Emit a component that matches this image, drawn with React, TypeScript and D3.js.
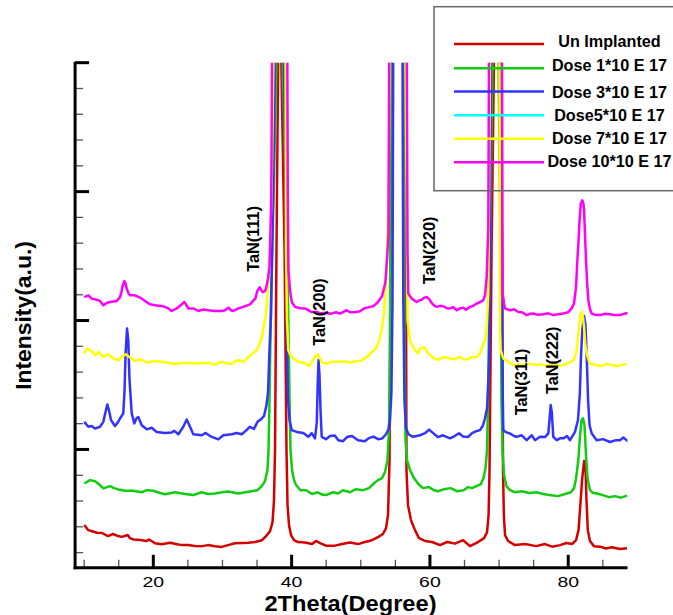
import React from 'react';
import * as d3 from 'd3';

type Pt = [number, number];

// 2Theta (deg), Intensity (a.u.)
const unImplanted: Pt[] = [
  [10.02, 2.07], [10.6, 1.87], [11.14, 1.83], [11.86, 1.77], [12.58, 1.76], [13.45, 1.64], [14.17, 1.72], [14.9, 1.64],
  [15.43, 1.61], [16.3, 1.68], [16.63, 1.56], [17.11, 1.51], [17.79, 1.5], [18.32, 1.48], [19.05, 1.45], [19.38, 1.51],
  [20.25, 1.36], [21.21, 1.32], [22.41, 1.38], [23.28, 1.33], [24.11, 1.29], [25.02, 1.29], [26.03, 1.26], [27.04, 1.25],
  [27.91, 1.29], [28.92, 1.25], [29.89, 1.22], [30.8, 1.29], [31.81, 1.36], [32.83, 1.37], [33.74, 1.38], [34.71, 1.41],
  [35.72, 1.48], [36.3, 1.64], [36.88, 1.83], [37.24, 2.18], [37.45, 3.03], [37.6, 4.96], [37.81, 12.72], [38.06, 20.2],
  [38.27, 40], [38.5, 20.2], [38.98, 12.72], [39.26, 4.96], [39.41, 2.84], [39.62, 2.07], [39.91, 1.68], [40.35, 1.48],
  [40.92, 1.41], [41.94, 1.39], [42.95, 1.33], [43.53, 1.45], [44.11, 1.37], [44.97, 1.27], [46.28, 1.27], [47.29, 1.33],
  [48.44, 1.39], [49.6, 1.33], [50.61, 1.41], [51.62, 1.48], [52.49, 1.6], [53.21, 1.72], [53.65, 1.95], [53.94, 2.45],
  [54.16, 4.59], [54.43, 20.2], [55.3, 40], [56.45, 20.2], [56.61, 4.2], [56.83, 2.84], [57.26, 2.26], [57.84, 1.87],
  [58.42, 1.56], [59.29, 1.45], [60.31, 1.41], [61.46, 1.29], [62.47, 1.41], [63.63, 1.35], [64.79, 1.48], [65.8, 1.25],
  [66.96, 1.41], [67.83, 1.56], [68.26, 1.79], [68.48, 2.45], [68.62, 4.2], [68.91, 12.72], [69.27, 20.2], [69.6, 40],
  [70.21, 20.2], [70.42, 12.72], [70.57, 4.2], [70.69, 2.45], [70.86, 1.68], [71.3, 1.45], [72.31, 1.29], [73.76, 1.33],
  [75.34, 1.25], [76.65, 1.33], [77.66, 1.23], [78.82, 1.29], [79.75, 1.37], [80.55, 1.33], [81.13, 1.48], [81.49, 1.87],
  [81.75, 2.84], [82.0, 3.81], [82.29, 4.55], [82.47, 4.51], [82.64, 3.03], [82.83, 1.87], [83.14, 1.45], [83.72, 1.25],
  [84.59, 1.23], [85.46, 1.16], [86.31, 1.21], [87.47, 1.14], [88.5, 1.17],
];

const dose1: Pt[] = [
  [10.02, 3.68], [10.85, 3.81], [11.57, 3.77], [12.15, 3.65], [12.77, 3.49], [13.74, 3.58], [14.32, 3.5], [14.94, 3.45],
  [15.91, 3.4], [17.11, 3.4], [18.32, 3.34], [19.09, 3.42], [20.0, 3.4], [20.97, 3.31], [21.69, 3.26], [23.14, 3.34],
  [24.58, 3.27], [25.78, 3.23], [27.0, 3.34], [27.91, 3.27], [28.92, 3.29], [29.93, 3.34], [30.85, 3.37], [32.29, 3.29],
  [33.74, 3.36], [35.07, 3.42], [35.69, 3.58], [36.15, 3.77], [36.51, 4.2], [36.66, 4.97], [36.8, 6.91], [37.02, 10.79],
  [37.45, 15.44], [37.81, 20.2], [38.2, 40], [38.68, 20.2], [39.12, 15.44], [39.48, 10.79], [39.7, 6.91], [39.84, 4.97],
  [40.06, 4.2], [40.35, 3.81], [40.64, 3.62], [41.27, 3.42], [42.08, 3.42], [42.95, 3.27], [43.76, 3.34], [44.39, 3.25],
  [44.97, 3.23], [45.99, 3.34], [46.71, 3.29], [47.43, 3.42], [48.44, 3.34], [49.31, 3.46], [50.32, 3.42], [51.19, 3.5],
  [51.92, 3.69], [52.49, 3.81], [53.07, 3.89], [53.5, 4.12], [53.87, 4.59], [54.08, 5.75], [54.23, 8.85], [54.34, 20.2],
  [55.1, 40], [56.18, 20.2], [56.32, 8.85], [56.47, 5.36], [56.69, 4.59], [57.12, 4.2], [57.7, 3.89], [58.35, 3.65],
  [59.0, 3.5], [59.87, 3.54], [60.59, 3.42], [61.17, 3.38], [62.04, 3.46], [63.0, 3.5], [63.92, 3.38], [64.86, 3.42],
  [65.51, 3.54], [66.09, 3.5], [66.72, 3.58], [67.35, 3.65], [67.75, 3.89], [68.04, 4.28], [68.26, 4.97], [68.4, 6.91],
  [68.69, 12.72], [69.05, 20.2], [69.45, 40], [69.92, 20.2], [70.21, 12.72], [70.35, 6.91], [70.5, 4.97], [70.72, 4.0],
  [71.06, 3.58], [71.58, 3.42], [72.31, 3.34], [73.32, 3.38], [74.33, 3.31], [75.42, 3.34], [76.36, 3.27], [77.22, 3.23],
  [78.53, 3.19], [79.54, 3.27], [80.38, 3.34], [80.84, 3.5], [81.13, 3.87], [81.46, 4.59], [81.71, 5.55], [81.92, 6.14],
  [82.14, 6.21], [82.35, 5.94], [82.57, 4.78], [82.79, 3.89], [83.14, 3.42], [83.58, 3.31], [84.16, 3.29], [85.02, 3.23],
  [85.89, 3.15], [86.76, 3.19], [87.62, 3.13], [88.5, 3.21],
];

const dose3: Pt[] = [
  [10.02, 6.07], [10.6, 5.88], [11.09, 5.91], [11.57, 5.81], [12.29, 5.88], [12.77, 6.07], [13.09, 6.45], [13.35, 6.74],
  [13.59, 6.52], [13.88, 6.14], [14.46, 5.91], [14.9, 6.06], [15.18, 6.2], [15.66, 6.4], [15.84, 7.3], [15.98, 8.65],
  [16.2, 9.69], [16.38, 9.24], [16.56, 7.69], [16.88, 6.4], [17.25, 6.01], [17.57, 6.21], [17.83, 6.26], [18.32, 5.94],
  [19.05, 5.78], [19.77, 5.84], [20.49, 5.68], [21.69, 5.64], [22.66, 5.66], [23.04, 5.72], [23.62, 5.59], [24.34, 5.88],
  [24.83, 6.16], [25.31, 5.88], [25.78, 5.59], [27.0, 5.55], [27.58, 5.64], [28.2, 5.52], [29.4, 5.39], [30.12, 5.55],
  [31.34, 5.59], [32.06, 5.64], [32.78, 5.59], [33.36, 5.72], [33.98, 5.88], [34.56, 5.8], [35.07, 6.07], [35.57, 6.17],
  [36.01, 6.3], [36.37, 6.72], [36.59, 7.22], [36.8, 8.85], [37.02, 10.26], [37.31, 14.66], [37.6, 20.2], [38.25, 40],
  [38.9, 20.2], [39.12, 14.66], [39.29, 9.62], [39.48, 6.91], [39.7, 6.14], [40.01, 5.75], [40.74, 5.68], [41.69, 5.64],
  [42.41, 5.49], [42.91, 5.63], [43.38, 5.43], [43.63, 6.02], [43.77, 7.49], [43.89, 8.46], [44.03, 7.88], [44.18, 6.52],
  [44.35, 5.49], [44.97, 5.4], [45.55, 5.52], [46.25, 5.54], [46.75, 5.36], [47.43, 5.32], [48.01, 5.48], [48.73, 5.52],
  [49.6, 5.36], [50.58, 5.32], [51.19, 5.44], [51.83, 5.5], [52.49, 5.4], [53.07, 5.42], [53.65, 5.59], [54.0, 5.77],
  [54.23, 6.14], [54.43, 7.22], [54.59, 10.79], [54.69, 20.2], [55.3, 40], [56.04, 20.2], [56.15, 10.79], [56.32, 6.91],
  [56.54, 5.83], [56.9, 5.59], [57.55, 5.49], [58.57, 5.55], [59.29, 5.63], [59.87, 5.77], [60.3, 5.67], [61.14, 5.48],
  [61.89, 5.55], [62.91, 5.43], [63.63, 5.53], [64.21, 5.63], [64.79, 5.5], [65.51, 5.48], [66.09, 5.63], [66.72, 5.71],
  [67.24, 5.75], [67.65, 5.92], [67.97, 6.21], [68.26, 6.6], [68.45, 7.69], [68.59, 8.73], [68.69, 12.72], [68.83, 20.2],
  [69.55, 40], [70.28, 20.2], [70.42, 12.72], [70.5, 7.69], [70.61, 5.75], [71.0, 5.67], [71.58, 5.62], [72.16, 5.52],
  [72.55, 5.49], [73.27, 5.55], [73.99, 5.36], [74.72, 5.55], [75.19, 5.36], [75.92, 5.49], [76.64, 5.48], [77.12, 5.62],
  [77.29, 6.14], [77.46, 6.72], [77.62, 6.45], [77.84, 5.49], [78.33, 5.36], [78.81, 5.43], [79.29, 5.43], [79.82, 5.52],
  [80.26, 5.36], [80.98, 5.68], [81.41, 6.14], [81.68, 7.18], [81.85, 8.65], [82.04, 9.66], [82.29, 10.18], [82.5, 9.81],
  [82.69, 8.46], [82.87, 6.91], [83.08, 5.94], [83.4, 5.62], [84.12, 5.36], [85.03, 5.4], [86.04, 5.29], [86.91, 5.36],
  [87.49, 5.36], [87.96, 5.46], [88.64, 5.32],
];

const dose5: Pt[] = [];

const dose7: Pt[] = [
  [10.02, 8.72], [10.37, 8.91], [11.09, 8.82], [11.57, 8.65], [12.15, 8.78], [12.77, 8.59], [13.49, 8.69], [14.22, 8.53],
  [14.94, 8.46], [15.43, 8.59], [16.01, 8.69], [16.63, 8.57], [17.35, 8.43], [18.32, 8.49], [19.05, 8.37], [20.25, 8.43],
  [21.21, 8.4], [22.17, 8.36], [23.14, 8.31], [24.58, 8.36], [26.03, 8.33], [27.95, 8.36], [28.92, 8.29], [29.89, 8.4],
  [30.51, 8.34], [31.34, 8.31], [31.81, 8.42], [32.29, 8.46], [33.01, 8.4], [33.74, 8.57], [34.42, 8.73], [35.07, 8.89],
  [35.69, 9.35], [36.3, 10.26], [36.73, 11.78], [37.09, 14.82], [37.38, 20.2], [38.25, 40], [39.12, 20.2], [39.19, 12.72],
  [39.33, 10.01], [39.52, 8.85], [39.84, 8.65], [40.25, 8.54], [40.97, 8.4], [41.94, 8.34], [42.52, 8.23], [42.91, 8.4],
  [43.38, 8.59], [43.77, 8.69], [44.11, 8.54], [44.39, 8.36], [45.07, 8.33], [45.99, 8.4], [47.0, 8.4], [47.87, 8.42],
  [48.44, 8.36], [49.17, 8.42], [49.96, 8.43], [50.61, 8.54], [51.19, 8.65], [51.7, 8.81], [52.13, 8.89], [52.49, 9.08],
  [52.78, 9.35], [53.07, 9.7], [53.36, 10.26], [53.69, 11.78], [54.0, 14.82], [54.2, 20.2], [55.4, 40], [56.47, 20.2],
  [56.64, 14.66], [56.76, 10.01], [57.12, 9.24], [57.41, 9.04], [57.84, 8.85], [58.32, 8.72], [58.57, 8.91], [59.0, 8.97],
  [59.29, 8.93], [59.77, 8.72], [60.52, 8.54], [61.14, 8.48], [61.6, 8.54], [62.32, 8.58], [62.91, 8.52], [63.63, 8.5],
  [64.35, 8.59], [64.86, 8.5], [65.51, 8.5], [66.09, 8.58], [66.77, 8.59], [67.24, 8.73], [67.65, 9.04], [67.97, 9.24],
  [68.21, 9.75], [68.44, 11.06], [68.69, 20.2], [69.35, 40], [70.06, 20.2], [70.11, 14.66], [70.14, 9.62], [70.23, 8.85],
  [70.61, 8.53], [71.34, 8.4], [72.06, 8.27], [72.74, 8.31], [73.51, 8.27], [74.47, 8.33], [75.44, 8.27], [76.06, 8.31],
  [76.89, 8.23], [77.51, 8.31], [78.33, 8.27], [78.96, 8.25], [79.78, 8.33], [80.26, 8.38], [80.74, 8.46], [81.06, 8.65],
  [81.23, 8.85], [81.42, 9.31], [81.56, 9.75], [81.75, 10.21], [81.93, 10.33], [82.11, 10.17], [82.29, 9.75], [82.47, 9.04],
  [82.68, 8.72], [82.94, 8.46], [83.15, 8.33], [84.12, 8.27], [84.75, 8.23], [85.57, 8.31], [86.19, 8.29], [87.02, 8.23],
  [87.64, 8.27], [88.46, 8.31],
];

const dose10: Pt[] = [
  [10.02, 10.91], [10.6, 10.98], [11.09, 10.85], [11.81, 10.81], [12.29, 10.76], [12.77, 10.59], [13.26, 10.68], [13.74, 10.72],
  [14.71, 10.76], [15.18, 10.91], [15.4, 11.1], [15.52, 11.3], [15.81, 11.53], [15.98, 11.45], [16.15, 11.24], [16.41, 11.06],
  [16.63, 10.98], [17.35, 10.98], [18.08, 10.89], [18.8, 10.76], [19.52, 10.63], [20.25, 10.59], [21.45, 10.55], [22.17, 10.47],
  [22.66, 10.37], [23.38, 10.47], [24.11, 10.63], [24.49, 10.72], [25.06, 10.47], [25.78, 10.47], [26.51, 10.37], [27.23, 10.43],
  [27.95, 10.4], [28.92, 10.37], [29.89, 10.37], [30.37, 10.4], [30.85, 10.5], [31.24, 10.4], [31.57, 10.37], [32.29, 10.47],
  [33.01, 10.53], [33.98, 10.63], [34.76, 10.86], [35.07, 11.17], [35.39, 11.29], [35.65, 11.17], [35.82, 11.1], [36.15, 11.14],
  [36.37, 11.33], [36.59, 11.64], [36.8, 12.08], [36.95, 13.5], [37.06, 14.82], [37.17, 20.2], [38.27, 40], [39.38, 20.2],
  [39.45, 14.66], [39.55, 11.95], [39.77, 11.17], [40.03, 10.71], [40.49, 10.53], [41.27, 10.48], [41.94, 10.47], [42.91, 10.33],
  [43.76, 10.33], [44.11, 10.27], [44.83, 10.3], [45.63, 10.26], [46.42, 10.32], [46.99, 10.27], [47.43, 10.33], [47.96, 10.4],
  [48.44, 10.32], [49.31, 10.33], [49.89, 10.36], [50.58, 10.48], [51.19, 10.52], [51.83, 10.56], [52.45, 10.71], [53.07, 10.94],
  [53.56, 11.48], [53.79, 12.34], [54.0, 13.31], [54.11, 20.2], [55.3, 40], [56.66, 20.2], [56.76, 12.72], [56.87, 11.05],
  [57.12, 10.94], [57.37, 10.85], [57.7, 10.79], [58.09, 10.72], [58.42, 10.77], [58.81, 10.81], [59.14, 10.88], [59.53, 10.91],
  [59.87, 10.84], [60.26, 10.68], [60.59, 10.59], [60.98, 10.53], [61.46, 10.57], [61.94, 10.55], [62.47, 10.48], [62.91, 10.47],
  [63.34, 10.52], [63.88, 10.4], [64.35, 10.47], [64.83, 10.5], [65.22, 10.42], [65.8, 10.53], [66.23, 10.57], [66.77, 10.66],
  [67.24, 10.71], [67.72, 10.79], [67.97, 10.98], [68.21, 11.69], [68.44, 13.63], [68.54, 20.2], [69.48, 40], [70.42, 20.2],
  [70.52, 11.05], [70.71, 10.67], [70.86, 10.47], [71.58, 10.4], [72.16, 10.44], [72.78, 10.33], [73.32, 10.32], [74.0, 10.21],
  [74.47, 10.26], [74.95, 10.27], [75.63, 10.22], [76.4, 10.24], [77.08, 10.28], [77.84, 10.21], [78.52, 10.24], [79.29, 10.27],
  [79.97, 10.32], [80.5, 10.47], [80.84, 10.67], [81.13, 11.3], [81.32, 12.34], [81.46, 12.98], [81.64, 13.89], [81.81, 14.53],
  [82.04, 14.66], [82.19, 14.55], [82.29, 14.28], [82.43, 13.31], [82.57, 12.34], [82.75, 11.37], [82.91, 10.79], [83.15, 10.44],
  [83.4, 10.27], [84.02, 10.21], [84.59, 10.21], [85.32, 10.26], [86.04, 10.24], [86.76, 10.21], [87.49, 10.21], [88.06, 10.26],
  [88.69, 10.29],
];

const seriesNames = ['Un Implanted', 'Dose 1*10 E 17', 'Dose 3*10 E 17', 'Dose5*10 E 17', 'Dose 7*10 E 17', 'Dose 10*10 E 17'];
const seriesColors = ['#d40000', '#11cc11', '#3333ff', '#00ffff', '#ffff00', '#ff00ff'];
const seriesData = [unImplanted, dose1, dose3, dose5, dose7, dose10];

const xMajorTicks = [20, 40, 60, 80];
const xMinorTicks = [10, 15, 25, 30, 35, 45, 50, 55, 65, 70, 75, 85];
const yTicks = d3.range(1, 21);

const peakLabels = ['TaN(111)', 'TaN(200)', 'TaN(220)', 'TaN(311)', 'TaN(222)'];
const peakLabelTheta = [34.46, 44.03, 59.87, 73.17, 77.58];
const peakLabelIntensity = [13.17, 10.33, 12.72, 7.62, 8.46];

const W = 673;
const H = 615;
const left = 75.1, right = 627.5, top = 62.7, bottom = 567.8;
const FONT = '"Liberation Sans", Arial, Helvetica, sans-serif';

const legendLineY = [44, 68.3, 91.5, 115.2, 138.8, 162.2];
const legendTextY = [46.5, 71, 98.3, 120.8, 143.5, 167.3];

export default function App() {
  const x = d3.scaleLinear().domain([8.69, 88.57]).range([left, right]);
  const y = d3.scaleLinear().domain([0.41, 20]).range([bottom, top]);
  const line = d3.line<Pt>().x((d) => x(d[0])).y((d) => y(d[1])).curve(d3.curveLinear);

  return (
    <svg width={W} height={H} style={{ position: 'absolute', left: 0, top: 0, background: '#fff' }} fontFamily={FONT}>
      <defs>
        <clipPath id="plotClip">
          <rect x={left} y={top} width={right - left} height={bottom - top} />
        </clipPath>
      </defs>
      <rect x={0} y={0} width={W} height={H} fill="#fff" />

      <g clipPath="url(#plotClip)">
        {seriesData.map((d, i) =>
          d.length ? (
            <path key={i} d={line(d) || ''} fill="none" stroke={seriesColors[i]} strokeWidth={2.5} strokeLinejoin="round" />
          ) : null
        )}
      </g>

      {/* y ticks */}
      {yTicks.map((t) => {
        const major = t % 5 === 0;
        return (
          <line key={'y' + t} x1={left} x2={left + (major ? 14 : 8)} y1={y(t)} y2={y(t)}
            stroke={major ? '#000' : '#555'} strokeWidth={major ? 3 : 1.3} />
        );
      })}
      {/* x ticks */}
      {xMinorTicks.map((t) => (
        <line key={'xm' + t} x1={x(t)} x2={x(t)} y1={bottom} y2={bottom - 8} stroke="#555" strokeWidth={1.3} />
      ))}
      {xMajorTicks.map((t) => (
        <g key={'xM' + t}>
          <line x1={x(t)} x2={x(t)} y1={bottom} y2={bottom - 13} stroke="#000" strokeWidth={3} />
          <text transform={`translate(${x(t)},${bottom + 19.5}) scale(1.28,1)`} textAnchor="middle" fontSize={15.2} fill="#000">
            {t}
          </text>
        </g>
      ))}
      {/* axes */}
      <line x1={left} x2={left} y1={top - 1} y2={bottom + 1.5} stroke="#000" strokeWidth={3} />
      <line x1={left - 1.5} x2={right} y1={bottom} y2={bottom} stroke="#000" strokeWidth={3} />

      {/* axis titles */}
      <text transform={`translate(350.5,610.8) scale(1.075,1)`} textAnchor="middle" fontSize={22} fontWeight="bold">
        2Theta(Degree)
      </text>
      <text transform={`translate(30.5,315.5) rotate(-90) scale(1.04,1)`} textAnchor="middle" fontSize={22} fontWeight="bold">
        Intensity(a.u.)
      </text>

      {/* peak labels */}
      {peakLabels.map((s, i) => (
        <text key={s} transform={`translate(${x(peakLabelTheta[i])},${y(peakLabelIntensity[i])}) rotate(-90)`}
          textAnchor="middle" dominantBaseline="central" fontSize={16.3} fontWeight="bold" fill="#000">
          {s}
        </text>
      ))}

      {/* legend */}
      <rect x={434} y={6.7} width={270} height={184} fill="none" stroke="#666" strokeWidth={1.5} />
      {seriesNames.map((n, i) => (
        <g key={n}>
          <line x1={454} x2={544} y1={legendLineY[i]} y2={legendLineY[i]} stroke={seriesColors[i]} strokeWidth={2.5} />
          <text x={609.5} y={legendTextY[i]} textAnchor="middle" fontSize={16.2} fontWeight="bold" fill="#000">
            {n}
          </text>
        </g>
      ))}
    </svg>
  );
}
